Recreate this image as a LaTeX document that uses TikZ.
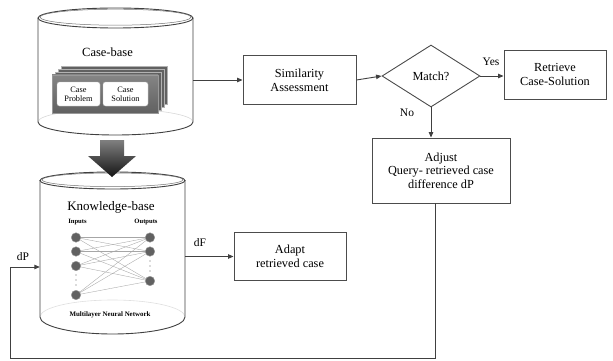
\documentclass[tikz,border=0pt]{standalone}
\usepackage{fontspec}
\setmainfont{Liberation Serif}
\usetikzlibrary{arrows.meta,shapes.geometric}
\begin{document}
\begin{tikzpicture}[x=1pt,y=-1pt,
  line/.style={draw=black!75, line width=0.9pt},
  arr/.style={line, -{Triangle[length=5.5pt,width=4.5pt]}},
  box/.style={draw=black!70, line width=0.9pt, fill=white, align=center, inner sep=0pt,
              font=\fontsize{12.3}{13.6}\selectfont},
  lbl/.style={font=\fontsize{11.5}{12}\selectfont, inner sep=0pt},
  cyl/.style={draw=black!75, line width=0.9pt},
  neuron/.style={circle, fill=black!62, draw=black!40, line width=0.4pt, minimum size=9.5pt, inner sep=0pt},
  synapse/.style={draw=black!35, line width=0.35pt},
  cardbox/.style={draw=black!25, line width=0.4pt, fill=white, rounded corners=2.5pt, align=center,
                  inner sep=0pt, minimum width=43pt, minimum height=24pt,
                  font=\fontsize{8.3}{8.8}\selectfont},
  tiny/.style={inner sep=0pt, font=\bfseries\fontsize{6.6}{7}\selectfont},
]
\useasboundingbox (0,0) rectangle (613,361);

% ---------- Case-base cylinder ----------
\node[minimum width=155pt, minimum height=127pt, inner sep=0pt] (cb) at (115.5,71.5) {};
\fill[white] (38,18) -- (38,122) arc[start angle=180,end angle=360,x radius=77.5pt,y radius=13pt] -- (193,18) -- cycle;
\draw[black!15, line width=0.6pt] (38,122) arc[start angle=180,end angle=0,x radius=77.5pt,y radius=13pt];
\draw[cyl] (38,18) -- (38,122) arc[start angle=180,end angle=360,x radius=77.5pt,y radius=13pt] -- (193,18);
\draw[cyl, fill=white] (115.5,18) ellipse[x radius=77.5pt, y radius=10pt];
\draw[black!55, line width=0.5pt] (115.5,17.2) ellipse[x radius=75.5pt, y radius=8pt];
\node[inner sep=0pt, font=\fontsize{12.5}{13}\selectfont] (cbt) at (107.5,52) {Case-base};

% stack of case cards
\foreach \i in {3,2,1}
  \draw[fill=black!62, draw=black!30, line width=0.5pt] (52+3*\i,75-3*\i) rectangle (158+3*\i,113-3*\i);
\shade[top color=black!48, bottom color=black!62, draw=black!40, line width=0.5pt] (52,75) rectangle (158,113);
\draw[black!40, line width=0.5pt] (52,75) rectangle (158,113);
\node[cardbox] (prob) at (78.5,94) {Case\\Problem};
\node[cardbox, minimum width=45pt] (sol) at (125.5,94) {Case\\Solution};

% ---------- Knowledge-base cylinder ----------
\node[minimum width=145pt, minimum height=163pt, inner sep=0pt] (kb) at (112.5,253.5) {};
\fill[white] (40,180) -- (40,317) arc[start angle=180,end angle=360,x radius=72.5pt,y radius=17pt] -- (185,180) -- cycle;
\draw[black!12, line width=0.6pt] (40,317) arc[start angle=180,end angle=0,x radius=72.5pt,y radius=17pt];
\draw[cyl] (40,180) -- (40,317) arc[start angle=180,end angle=360,x radius=72.5pt,y radius=17pt] -- (185,180);
\draw[cyl, fill=white] (112.5,180.5) ellipse[x radius=72.5pt, y radius=8.5pt];
\draw[black!55, line width=0.5pt] (112.5,179.8) ellipse[x radius=70.5pt, y radius=6.8pt];
\node[inner sep=0pt, font=\fontsize{13}{14}\selectfont] (kbt) at (111,207) {Knowledge-base};
\node[tiny] (inl) at (77.5,222) {Inputs};
\node[tiny] (outl) at (146,222) {Outputs};
\node[tiny, font=\bfseries\fontsize{6.9}{7}\selectfont] (mnn) at (110,315) {Multilayer Neural Network};

% neural network
\foreach \n/\y in {i1/237.5,i2/251.5,i3/266,i4/295} \coordinate (\n) at (76,\y);
\foreach \n/\y in {o1/237.5,o2/251.5,o3/281} \coordinate (\n) at (150,\y);
\foreach \a in {i1,i2,i3,i4}
  \foreach \b in {o1,o2,o3}
    \draw[synapse] (\a) -- (\b);
\foreach \n in {i1,i2,i3,i4,o1,o2,o3} \node[neuron] at (\n) {};
\foreach \y in {275,280,285} \fill[black!60] (76,\y) circle[radius=0.55pt];
\foreach \y in {261,266,271} \fill[black!60] (150,\y) circle[radius=0.55pt];

% transfer arrow from case-base to knowledge-base
\shade[top color=black!50, bottom color=black!92]
  (100,140) -- (124,140) -- (124,156) -- (136,156) -- (112,177) -- (88,156) -- (100,156) -- cycle;

% ---------- process boxes ----------
\node[box, minimum width=113pt, minimum height=49pt] (sim) at (299.5,80) {Similarity\\Assessment};
\node[box, diamond, minimum width=98pt, minimum height=62pt, aspect=1.6,
      font=\fontsize{12.3}{13}\selectfont] (match) at (431,76) {Match?};
\node[box, minimum width=102pt, minimum height=49pt] (ret) at (555,74.5) {Retrieve\\Case-Solution};
\node[box, minimum width=138pt, minimum height=65pt] (adj) at (441,170.5) {Adjust\\Query- retrieved case\\difference dP};
\node[box, minimum width=112pt, minimum height=48pt] (adapt) at (290,256.5) {Adapt\\retrieved case};

% ---------- connectors ----------
\draw[arr] (cb.east |- sim.west) -- (sim.west);
\draw[arr] (sim.east) -- (match.west);
\draw[arr] (match.east) -- (ret.west |- match.east);
\node[lbl] (yes) at (491,62) {Yes};
\draw[arr] (match.south) -- (match.south |- adj.north);
\node[lbl] (no) at (407,113) {No};
\draw[arr] (kb.east |- adapt.west) -- (adapt.west);
\node[lbl] (df) at (200,243) {dF};

% feedback of dP into the knowledge-base
\coordinate (fb) at (435,358.5);
\coordinate (fl) at (10,358.5);
\coordinate (fin) at (10,267);
\draw[arr] (fb |- adj.south) -- (fb) -- (fl) -- (fin) -- (kb.west |- fin);
\node[lbl] (dp) at (23,257) {dP};
\end{tikzpicture}
\end{document}
